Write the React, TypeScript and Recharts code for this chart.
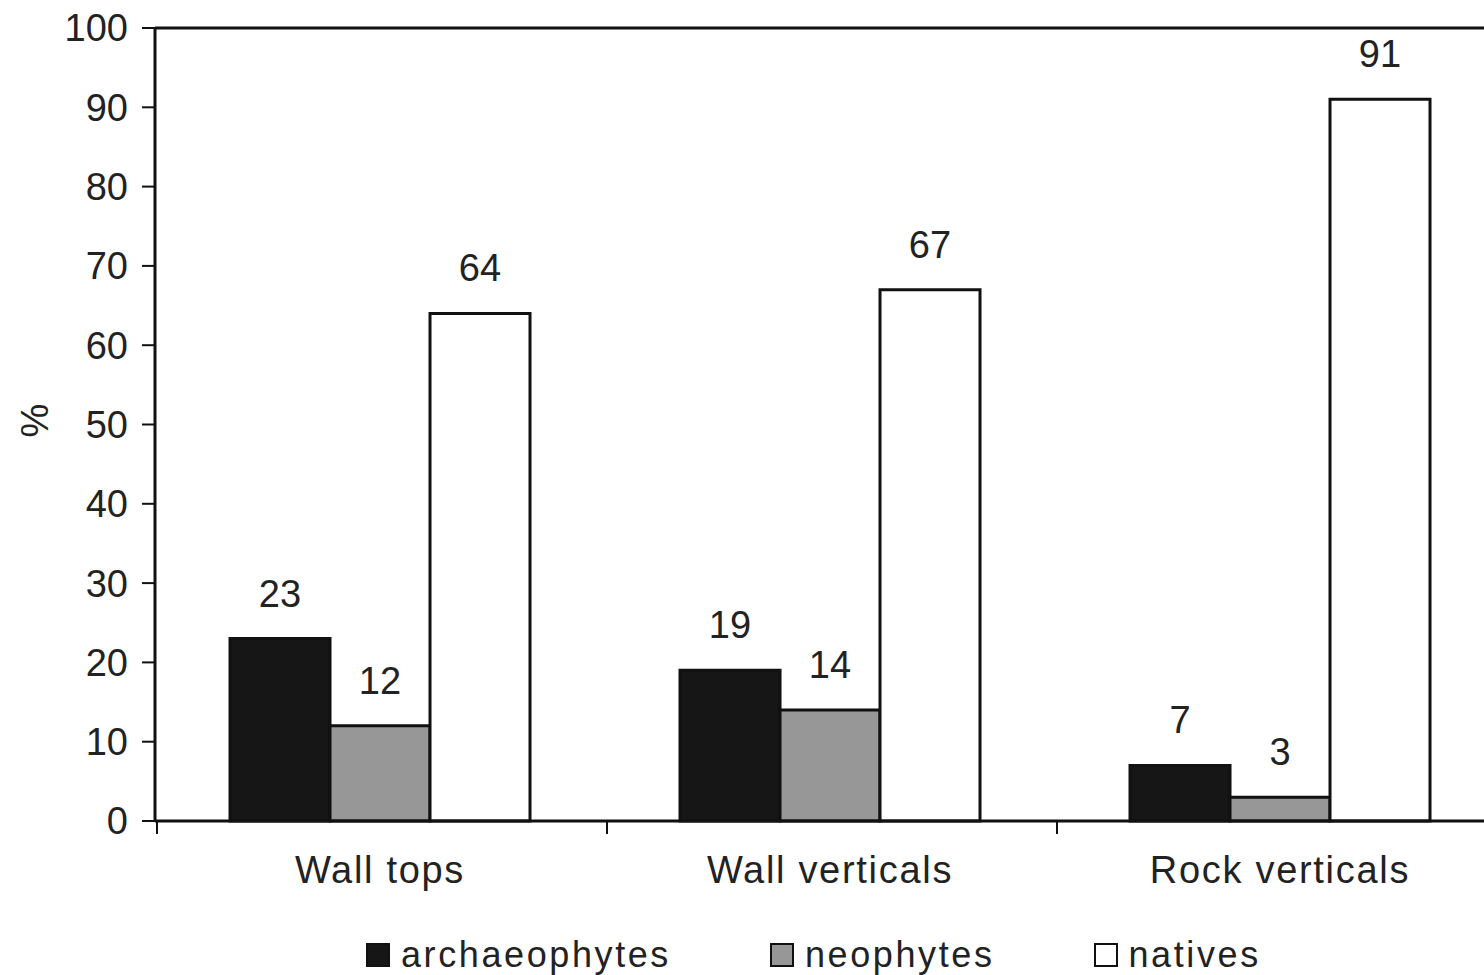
import React from "react";
import { BarChart, Bar, XAxis, YAxis, LabelList, Legend, ReferenceLine } from "recharts";

const categories = ["Wall tops", "Wall verticals", "Rock verticals"];
const archaeophytes = [23, 19, 7];
const neophytes = [12, 14, 3];
const natives = [64, 67, 91];
const yTicks = [0, 10, 20, 30, 40, 50, 60, 70, 80, 90, 100];

const seriesNames = ["archaeophytes", "neophytes", "natives"];
const seriesColors = ["#161616", "#979797", "#ffffff"];

const data = categories.map((c, i) => ({
  name: c,
  archaeophytes: archaeophytes[i],
  neophytes: neophytes[i],
  natives: natives[i],
}));

const FONT = "'Liberation Sans', Arial, Helvetica, sans-serif";
const CHART_W = 1530;
const CHART_H = 975;
const Y_W = 155;
const M_RIGHT = 25;
const BAND = (CHART_W - Y_W - M_RIGHT) / categories.length;

const XTick = (props: any) => {
  const { x, y, payload } = props;
  const bx = x - BAND / 2 + 2;
  return (
    <g>
      <line x1={bx} y1={y} x2={bx} y2={y + 13} stroke="#111" strokeWidth={2} />
      <text
        x={x}
        y={y + 35}
        dy="0.71em"
        textAnchor="middle"
        fontSize={38}
        fontFamily={FONT}
        fill="#222"
        letterSpacing={1.7}
      >
        {payload.value}
      </text>
    </g>
  );
};

const YLabel = (props: any) => {
  const vb = props.viewBox || { x: 0, y: 28, width: 155, height: 793 };
  const cy = vb.y + vb.height / 2 - 4;
  return (
    <text
      x={35}
      y={cy}
      transform={`rotate(-90 35 ${cy})`}
      textAnchor="middle"
      dominantBaseline="central"
      fontSize={38}
      fontFamily={FONT}
      fill="#222"
    >
      %
    </text>
  );
};

const LegendContent = () => (
  <div
    style={{
      display: "flex",
      justifyContent: "flex-start",
      gap: 99,
      fontFamily: FONT,
      fontSize: 36,
      letterSpacing: 2.6,
      color: "#222",
      paddingLeft: 366,
    }}
  >
    {seriesNames.map((n, i) => (
      <div key={n} style={{ display: "flex", alignItems: "center", gap: 11 }}>
        <div
          style={{
            width: 20,
            height: 20,
            background: seriesColors[i],
            border: "2.5px solid #111",
          }}
        />
        <span style={{ lineHeight: "40px" }}>{n}</span>
      </div>
    ))}
  </div>
);

export default function App() {
  return (
    <div
      style={{
        position: "fixed",
        left: 0,
        top: 0,
        width: 1484,
        height: 975,
        overflow: "hidden",
        background: "#fff",
      }}
    >
      <BarChart
        width={CHART_W}
        height={CHART_H}
        data={data}
        margin={{ top: 28, right: M_RIGHT, left: 0, bottom: 0 }}
        barCategoryGap="16.67%"
        barGap={0}
      >
        <XAxis
          dataKey="name"
          axisLine={{ stroke: "#111", strokeWidth: 3 }}
          tickLine={false}
          tickSize={0}
          tickMargin={0}
          height={114}
          tick={<XTick />}
          interval={0}
        />
        <YAxis
          width={Y_W}
          domain={[0, 100]}
          ticks={yTicks}
          interval={0}
          axisLine={{ stroke: "#111", strokeWidth: 3 }}
          tickLine={{ stroke: "#111", strokeWidth: 2 }}
          tickSize={13}
          tickMargin={14}
          tick={{ fontSize: 38, fontFamily: FONT, fill: "#222" }}
          label={<YLabel />}
        />
        <ReferenceLine y={100} stroke="#111" strokeWidth={3} />
        <Legend
          verticalAlign="bottom"
          align="left"
          height={40}
          content={<LegendContent />}
          wrapperStyle={{ left: 0, bottom: 0, width: CHART_W }}
        />
        {seriesNames.map((n, i) => (
          <Bar
            key={n}
            dataKey={n}
            fill={seriesColors[i]}
            stroke="#111"
            strokeWidth={3}
            isAnimationActive={false}
          >
            <LabelList
              dataKey={n}
              position="top"
              offset={32}
              fontSize={38}
              fontFamily={FONT}
              fill="#222"
            />
          </Bar>
        ))}
      </BarChart>
    </div>
  );
}
